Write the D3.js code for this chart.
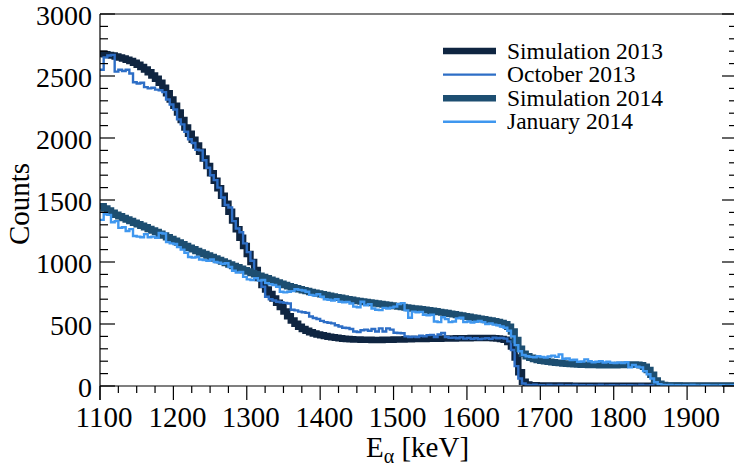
<!DOCTYPE html>
<html><head><meta charset="utf-8">
<script src="https://cdn.jsdelivr.net/npm/d3@7"></script>
<style>
html,body{margin:0;padding:0;background:#fff;}
svg{display:block;}
text{font-family:"Liberation Serif","Times New Roman",serif;fill:#000;}
</style></head>
<body>
<svg id="chart" width="734" height="466"></svg>
<script>
// ---------- data (5 keV bins starting at 1100 keV) ----------
const binWidth = 5;
const binStart = d3.range(1100, 1965, binWidth); // 173 bins

const sim2013 = [
 2680,2675,2670,2665,2658,2650,2642,2632,2620,2606,
 2590,2572,2552,2530,2505,2478,2445,2405,2360,2310,
 2260,2205,2145,2085,2035,1985,1940,1890,1835,1775,
 1715,1655,1595,1535,1470,1405,1335,1265,1195,1130,
 1065,1000,935,870,815,778,742,706,672,637,
 600,563,528,502,478,460,446,434,424,416,
 410,404,398,393,389,385,382,379,377,375,
 374,373,372,372,371,371,371,372,372,373,
 374,375,376,377,378,379,379,380,380,381,
 381,382,382,383,383,384,384,385,385,386,
 386,387,387,387,388,388,387,386,384,380,
 372,355,318,230,110,35,12,7,6,5,
 5,5,4,4,4,4,4,4,3,3,
 3,3,3,3,3,3,3,3,3,3,
 3,3,3,3,3,3,3,3,3,3,
 3,3,3,3,3,3,3,3,3,3,
 3,3,3,3,3,3,3,3,3,3,
 3,3,3
];
const october2013 = [
 2550,2650,2665,2670,2535,2550,2540,2550,2520,2450,
 2440,2445,2410,2400,2405,2390,2385,2370,2310,2270,
 2230,2150,2110,2050,1990,1960,1905,1900,1820,1760,
 1700,1660,1600,1520,1460,1440,1330,1270,1240,1150,
 1080,1010,900,870,800,720,700,690,680,675,
 670,665,615,610,600,595,590,560,548,540,
 525,515,510,505,490,480,470,468,460,440,
 435,450,455,445,460,440,465,440,465,455,
 430,428,425,400,395,398,395,405,400,410,
 412,395,415,428,395,388,390,385,392,382,
 388,380,385,378,382,386,380,390,385,388,
 382,360,290,160,60,20,8,6,10,4,
 7,3,8,5,4,9,3,6,5,8,
 4,6,3,7,5,4,8,3,5,6,
 5,3,7,4,6,5,3,8,4,5,
 6,4,5,3,7,5,4,6,3,5,
 4,7,3,5,6,4,5,3,6,4,
 5,3,4
];
const sim2014 = [
 1450,1432,1415,1398,1382,1368,1355,1342,1330,1317,
 1304,1292,1280,1267,1254,1241,1228,1214,1200,1186,
 1172,1158,1143,1129,1115,1102,1089,1076,1064,1052,
 1040,1028,1016,1004,992,980,968,957,945,934,
 923,912,901,890,879,868,857,846,835,825,
 815,805,796,788,780,773,766,759,752,746,
 740,734,728,722,716,711,705,700,695,690,
 686,682,678,674,670,666,662,658,654,650,
 646,642,638,634,630,626,622,618,614,610,
 606,602,597,592,588,583,578,573,568,563,
 558,553,548,543,538,533,528,522,516,508,
 498,478,440,370,300,260,240,228,218,210,
 204,199,195,191,188,185,182,180,178,176,
 174,172,171,170,169,169,168,168,168,168,
 168,169,170,171,172,173,172,168,155,130,
 90,45,18,8,5,4,4,4,3,3,
 3,3,3,3,3,3,3,3,3,3,
 3,3,3
];
const january2014 = [
 1340,1385,1380,1320,1330,1275,1280,1250,1265,1210,
 1205,1200,1225,1200,1205,1195,1235,1230,1160,1150,
 1145,1120,1100,1075,1040,1035,1040,1020,1015,1010,
 1020,1000,995,985,990,960,930,915,920,880,
 860,855,870,850,855,830,820,815,800,760,
 755,760,765,780,775,770,760,735,730,740,
 720,700,695,690,700,680,675,678,665,640,
 635,680,650,660,625,615,612,630,625,632,
 640,660,668,610,550,600,595,598,575,570,
 575,520,515,555,540,515,520,545,550,515,
 520,512,518,525,515,500,505,495,490,480,
 470,445,400,330,280,250,240,235,232,240,
 234,230,238,245,235,255,220,222,210,212,
 195,198,215,200,192,195,200,190,196,188,
 185,190,185,192,150,170,155,150,120,95,
 60,30,15,8,6,9,4,7,5,6,
 4,8,5,3,6,7,4,5,3,6,
 5,4,6
];

const seriesNames = ["Simulation 2013","October 2013","Simulation 2014","January 2014"];
const seriesColors = ["#0f2541","#2d6ec6","#1d4e71","#3f97ef"];
const seriesWidths = [6.5, 2.4, 6.5, 2.4];
const seriesData = [sim2013, october2013, sim2014, january2014];

const xTickLabels = [1100,1200,1300,1400,1500,1600,1700,1800,1900];
const yTickLabels = [0,500,1000,1500,2000,2500,3000];

// ---------- layout ----------
const svg = d3.select("#chart");
const L = 100, R = 737, T = 14, B = 386;
const x = d3.scaleLinear().domain([1100, 1968]).range([L, R]);
const y = d3.scaleLinear().domain([0, 3000]).range([B, T]);

svg.append("defs").append("clipPath").attr("id","plotclip")
  .append("rect").attr("x",L).attr("y",T-10).attr("width",R-L).attr("height",B-T+10);

// histograms
const line = d3.line().x(d=>x(d[0])).y(d=>y(d[1])).curve(d3.curveStepAfter);
const g = svg.append("g").attr("clip-path","url(#plotclip)");
seriesData.forEach((vals,k)=>{
  const pts = binStart.map((b,i)=>[b, vals[i]]);
  pts.push([binStart[binStart.length-1]+binWidth, vals[vals.length-1]]);
  g.append("path").attr("d", line(pts)).attr("fill","none")
    .attr("stroke", seriesColors[k]).attr("stroke-width", seriesWidths[k])
    .attr("stroke-linejoin","miter");
});

// frame
const ax = svg.append("g").attr("stroke","#000").attr("stroke-width",1.2).attr("fill","none");
ax.append("line").attr("x1",L).attr("x2",L).attr("y1",T).attr("y2",B+14);
ax.append("line").attr("x1",L).attr("x2",R).attr("y1",T).attr("y2",T);
ax.append("line").attr("x1",L).attr("x2",R).attr("y1",B).attr("y2",B);
ax.append("line").attr("x1",R).attr("x2",R).attr("y1",T).attr("y2",B);

// x ticks (outward)
const xMinor = d3.range(1100, 1968, 25);
xMinor.forEach(v=>{
  const major = (v % 100) === 0;
  ax.append("line").attr("x1",x(v)).attr("x2",x(v)).attr("y1",B).attr("y2",B+(major?14:7));
});
// y ticks (inward, left and right)
const yMinor = d3.range(0, 3001, 100);
yMinor.forEach(v=>{
  const major = (v % 500) === 0;
  const len = major?15:8;
  ax.append("line").attr("x1",L).attr("x2",L+len).attr("y1",y(v)).attr("y2",y(v));
  ax.append("line").attr("x1",R).attr("x2",R-len).attr("y1",y(v)).attr("y2",y(v));
});

// tick labels
svg.append("g").selectAll("text").data(xTickLabels).join("text")
  .attr("x",d=>x(d)+4).attr("y",427).attr("text-anchor","middle")
  .attr("font-size",29).text(d=>d);
svg.append("g").selectAll("text").data(yTickLabels).join("text")
  .attr("x",92).attr("y",d=>y(d)+11).attr("text-anchor","end")
  .attr("font-size",28).text(d=>d);

// axis titles
svg.append("text").attr("transform","translate(29,204) rotate(-90)")
  .attr("text-anchor","middle").attr("font-size",29).text("Counts");
const xt = svg.append("text").attr("x",366).attr("y",457).attr("font-size",29);
xt.append("tspan").text("E");
xt.append("tspan").attr("font-size",20).attr("dy",6).text("α");
xt.append("tspan").attr("dy",-6).text(" [keV]");

// legend
const lg = svg.append("g");
seriesNames.forEach((n,k)=>{
  const ly = 51 + 23.6*k;
  lg.append("line").attr("x1",443).attr("x2",496).attr("y1",ly).attr("y2",ly)
    .attr("stroke",seriesColors[k]).attr("stroke-width", k%2===0?6.5:2.4);
  lg.append("text").attr("x",507).attr("y",ly+7.5).attr("font-size",23.5).text(n);
});
</script>
</body></html>
